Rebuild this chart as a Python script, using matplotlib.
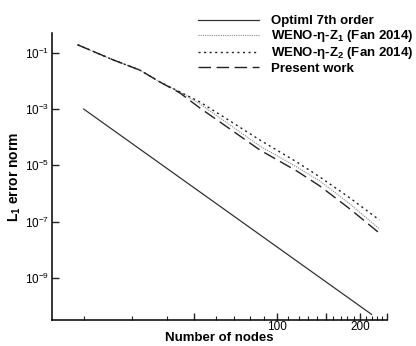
import matplotlib
matplotlib.use("Agg")
import matplotlib.pyplot as plt
from matplotlib.ticker import FixedLocator, FixedFormatter, NullLocator, LogFormatterMathtext

plt.rcParams["font.family"] = ["Liberation Sans", "DejaVu Sans"]
plt.rcParams["mathtext.fontset"] = "custom"
plt.rcParams["mathtext.rm"] = "Liberation Sans"
plt.rcParams["mathtext.bf"] = "Liberation Sans:bold"
plt.rcParams["mathtext.it"] = "Liberation Sans:italic"

# reference slope line
optimal_nodes = [20, 220]
optimal_err = [1.0e-3, 5.1e-11]

# grid sizes shared by the WENO runs
nodes = [19, 25.5, 32, 37.7, 44.5, 52.6, 67.6, 86.7, 118, 143, 184, 235]

weno_z1_err = [0.193, 0.0564, 0.0240, 9.2e-3, 4.09e-3, 1.53e-3, 2.74e-4,
               4.9e-5, 8.8e-6, 2.78e-6, 4.2e-7, 5.5e-8]
weno_z2_err = [0.193, 0.0564, 0.0240, 9.2e-3, 4.09e-3, 1.80e-3, 3.80e-4,
               8.0e-5, 1.32e-5, 3.87e-6, 6.9e-7, 1.14e-7]
present_err = [0.193, 0.0564, 0.0240, 9.2e-3, 3.78e-3, 1.10e-3, 1.97e-4,
               3.53e-5, 6.3e-6, 1.85e-6, 2.8e-7, 3.9e-8]

x_major = [50, 100, 150, 200, 250]
x_major_labels = ["", "100", "", "200", ""]
x_minor = [20, 30, 40, 60, 70, 80, 90, 110, 120, 130, 140, 160, 170, 180,
           190, 210, 220, 230, 240]
y_major = [1e-9, 1e-7, 1e-5, 1e-3, 1e-1]

fig = plt.figure(figsize=(4.16, 3.46), dpi=100)
ax = fig.add_axes([0.124, 0.075, 0.806, 0.830])

ax.plot(optimal_nodes, optimal_err, color="#333333", lw=0.9,
        label="Optiml 7th order")
ax.plot(nodes, weno_z1_err, color="#888888", lw=0.8, linestyle=(0, (1, 1)),
        label=r"WENO-η-Z$_\mathbf{1}$ (Fan 2014)")
ax.plot(nodes, weno_z2_err, color="#222222", lw=1.0, linestyle=(0, (1.5, 2.5)),
        label=r"WENO-η-Z$_\mathbf{2}$ (Fan 2014)")
ax.plot(nodes, present_err, color="#222222", lw=1.0, linestyle=(0, (9, 4)),
        label="Present work")

ax.set_xscale("log")
ax.set_yscale("log")
ax.set_xlim(15.3, 250)
ax.set_ylim(3.2e-11, 0.51)

ax.xaxis.set_major_locator(FixedLocator(x_major))
ax.xaxis.set_major_formatter(FixedFormatter(x_major_labels))
ax.xaxis.set_minor_locator(FixedLocator(x_minor))
ax.xaxis.set_minor_formatter(FixedFormatter([""] * len(x_minor)))
ax.yaxis.set_major_locator(FixedLocator(y_major))
ax.yaxis.set_major_formatter(LogFormatterMathtext())
ax.yaxis.set_minor_locator(NullLocator())

for side in ("top", "right"):
    ax.spines[side].set_visible(False)
for side in ("left", "bottom"):
    ax.spines[side].set_linewidth(1.1)

ax.tick_params(axis="both", which="both", direction="in", labelsize=8.5,
               color="#222222")
ax.tick_params(axis="x", which="major", length=5, width=1.0, pad=1)
ax.tick_params(axis="x", which="minor", length=3, width=0.8)
ax.tick_params(axis="y", which="major", length=5, width=1.0, pad=2)

ax.set_xlabel("Number of nodes", fontsize=9.5, fontweight="bold", labelpad=-1)
ax.set_ylabel(r"L$_\mathbf{1}$ error norm", fontsize=10, fontweight="bold",
              labelpad=1)

ax.legend(loc="upper left", bbox_to_anchor=(198 / 416, 1 - 15 / 346),
          bbox_transform=fig.transFigure, frameon=False,
          prop={"weight": "bold", "size": 9.5}, handlelength=4.6,
          handletextpad=0.9, labelspacing=0.08, borderpad=0, borderaxespad=0)

fig.savefig("out.png", dpi=100)
